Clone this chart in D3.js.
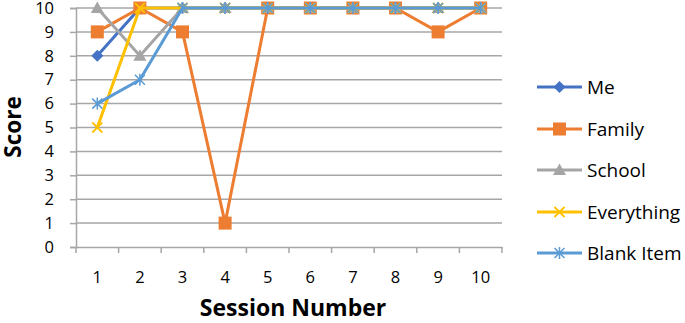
<!DOCTYPE html>
<html><head><meta charset="utf-8">
<script src="https://cdn.jsdelivr.net/npm/d3@7"></script>
<style>body{margin:0;background:#fff}svg{display:block}text{font-family:"Open Sans","Liberation Sans",sans-serif;fill:#000}</style>
</head><body>
<svg id="c" width="685" height="323"></svg>
<script>
const sessions = ["1","2","3","4","5","6","7","8","9","10"];
const yTicks = [0,1,2,3,4,5,6,7,8,9,10];
const seriesNames = ["Me","Family","School","Everything","Blank Item"];
const me        = [8,10,10,10,10,10,10,10,10,10];
const family    = [9,10,9,1,10,10,10,10,9,10];
const school    = [10,8,10,10,10,10,10,10,10,10];
const everything= [5,10,10,10,10,10,10,10,10,10];
const blankItem = [6,7,10,10,10,10,10,10,10,10];
const colors = ["#4472C4","#ED7D31","#A5A5A5","#FFC000","#5B9BD5"];
const symbols = ["diamond","square","triangle","x","asterisk"];
const values = [me,family,school,everything,blankItem];

const svg = d3.select("#c");
const L=76,R=502,T=8,B=247;
const x = d3.scaleBand().domain(sessions).range([L,R]);
const y = d3.scaleLinear().domain([0,10]).range([B,T]);

// gridlines
svg.append("g").selectAll("line").data(yTicks.filter(d=>d>0)).join("line")
  .attr("x1",L).attr("x2",R).attr("y1",d=>y(d)).attr("y2",d=>y(d))
  .attr("stroke","#A6A6A6").attr("stroke-width",1.5);

// y axis
const ya = svg.append("g").attr("transform",`translate(${L},0)`)
  .call(d3.axisLeft(y).tickValues(yTicks).tickSize(6).tickPadding(16).tickFormat(d3.format("d")));
ya.select(".domain").attr("stroke","#A6A6A6").attr("stroke-width",1.5);
ya.selectAll(".tick line").attr("stroke","#A6A6A6").attr("stroke-width",1.5);
ya.selectAll("text").attr("font-size",16.5).style("font-family",'"Open Sans",sans-serif');

// x axis
const xa = svg.append("g").attr("transform",`translate(0,${B})`)
  .call(d3.axisBottom(x).tickSize(0).tickPadding(24));
xa.select(".domain").attr("stroke","#A6A6A6").attr("stroke-width",1.5);
xa.selectAll("text").attr("font-size",16.5).style("font-family",'"Open Sans",sans-serif');
xa.append("g").selectAll("line").data(d3.range(sessions.length+1)).join("line")
  .attr("x1",i=>L+i*x.step()).attr("x2",i=>L+i*x.step()).attr("y1",0).attr("y2",6)
  .attr("stroke","#A6A6A6").attr("stroke-width",1.5);

// titles
svg.append("text").attr("transform","translate(21,127) rotate(-90)").attr("text-anchor","middle")
  .attr("font-size",22.5).attr("font-weight","bold").text("Score");
svg.append("text").attr("x",293).attr("y",316).attr("text-anchor","middle")
  .attr("font-size",23).attr("font-weight","bold").text("Session Number");

function marker(g, sym, color, cx, cy){
  if(sym==="diamond"){
    g.append("path").attr("d",`M${cx},${cy-6}L${cx+6},${cy}L${cx},${cy+6}L${cx-6},${cy}Z`).attr("fill",color);
  } else if(sym==="square"){
    g.append("rect").attr("x",cx-6.5).attr("y",cy-6.5).attr("width",13).attr("height",13).attr("fill",color);
  } else if(sym==="triangle"){
    g.append("path").attr("d",`M${cx},${cy-6.5}L${cx+6.5},${cy+5}L${cx-6.5},${cy+5}Z`).attr("fill",color);
  } else if(sym==="x"){
    g.append("path").attr("d",`M${cx-5},${cy-5}L${cx+5},${cy+5}M${cx+5},${cy-5}L${cx-5},${cy+5}`).attr("stroke",color).attr("stroke-width",1.8);
  } else {
    g.append("path").attr("d",`M${cx-5},${cy-5}L${cx+5},${cy+5}M${cx+5},${cy-5}L${cx-5},${cy+5}M${cx},${cy-6}L${cx},${cy+6}`).attr("stroke",color).attr("stroke-width",1.5);
  }
}

const line = d3.line().x((d,i)=>x(sessions[i])+x.bandwidth()/2).y(d=>y(d));
values.forEach((vals,k)=>{
  const g = svg.append("g");
  g.append("path").datum(vals).attr("d",line).attr("fill","none").attr("stroke",colors[k]).attr("stroke-width",3).attr("stroke-linejoin","round");
  vals.forEach((v,i)=>marker(g,symbols[k],colors[k],x(sessions[i])+x.bandwidth()/2,y(v)));
});

// legend
const ly = [87,129,170,212,253];
seriesNames.forEach((n,k)=>{
  const g = svg.append("g");
  g.append("line").attr("x1",537).attr("x2",582).attr("y1",ly[k]).attr("y2",ly[k]).attr("stroke",colors[k]).attr("stroke-width",3);
  marker(g,symbols[k],colors[k],559.5,ly[k]);
  g.append("text").attr("x",587).attr("y",ly[k]).attr("dy","0.36em").attr("font-size",19).text(n);
});
</script>
</body></html>
